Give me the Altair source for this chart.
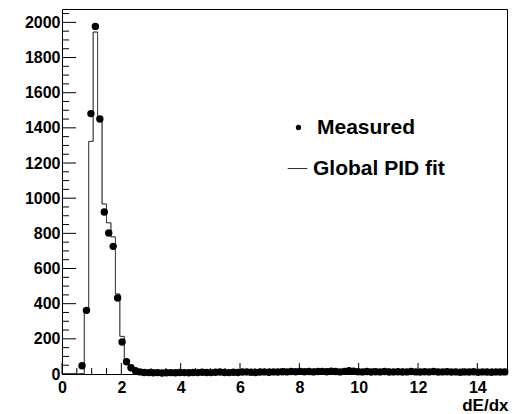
import altair as alt
import pandas as pd

# Histogram binning (100 bins over 0..15)
bin_width = 0.15
n_bins = 100
first_measured_bin = 4

# Measured counts, bins 4..99
measured = [
    47, 362, 1481, 1977, 1450, 921, 802, 726, 432, 182, 70, 36, 19,
    12, 9, 8, 7, 8, 6, 7, 8, 7, 9,
    8, 7, 9, 8, 10, 9, 8, 10, 11, 9,
    8, 10, 9, 11, 12, 10, 9, 11, 12, 10,
    12, 11, 13, 12, 14, 13, 15, 13, 14, 12,
    14, 15, 13, 16, 14, 12, 15, 19, 16, 13,
    12, 14, 11, 13, 12, 14, 11, 12, 13, 11,
    12, 14, 12, 11, 13, 12, 14, 11, 12, 13,
    11, 12, 10, 12, 11, 13, 10, 12, 11, 10,
    12, 11, 12,
]

# Global PID fit, bins 0..99
fit = [
    0, 0, 0, 0, 2, 360, 1323, 1945, 1456, 967, 860, 780, 455, 214, 81, 36, 18,
    12, 10, 9, 8, 8, 8, 8, 8, 8, 9,
    9, 9, 9, 9, 10, 10, 10, 10, 10, 10,
    10, 10, 11, 11, 11, 11, 11, 11, 12, 12,
    12, 12, 12, 13, 13, 13, 13, 13, 13, 13,
    14, 14, 14, 14, 14, 14, 14, 15, 14, 14,
    13, 13, 13, 13, 13, 12, 12, 12, 12, 12,
    12, 12, 12, 12, 12, 12, 12, 12, 12, 12,
    12, 11, 11, 11, 11, 11, 11, 11, 11, 11,
    11, 11, 11,
]

x_major = [0, 2, 4, 6, 8, 10, 12, 14]
x_minor = [0.5, 1, 1.5, 2.5, 3, 3.5, 4.5, 5, 5.5, 6.5, 7, 7.5, 8.5, 9, 9.5,
           10.5, 11, 11.5, 12.5, 13, 13.5, 14.5]
y_major = [0, 200, 400, 600, 800, 1000, 1200, 1400, 1600, 1800, 2000]
y_minor = [v for v in range(50, 2051, 50) if v % 200 != 0]

edges = [round(i * bin_width, 4) for i in range(n_bins + 1)]
centers = [round((i + 0.5) * bin_width, 4) for i in range(n_bins)]

pts = pd.DataFrame({"x": centers[first_measured_bin:], "y": measured, "series": "Measured"})
hist = pd.DataFrame({"x": edges, "y": fit + [fit[-1]], "series": "Global PID fit"})

FONT = "Liberation Sans"
W, H = 445, 365

x_scale = alt.Scale(domain=[0, 15], nice=False, zero=False)
y_scale = alt.Scale(domain=[0, 2076], nice=False, zero=True)

x_axis = alt.Axis(values=x_major, ticks=False, tickSize=0, domain=False, grid=False,
                  labelFont=FONT, labelFontWeight="bold", labelFontSize=16, labelColor="black",
                  labelPadding=5, labelFlush=False, labelOverlap=False, format="d",
                  title="dE/dx", titleFont=FONT, titleFontSize=17, titleFontWeight="bold",
                  titleColor="black", titleAnchor="end", titleAlign="right",
                  titleX=W + 1, titleY=36.5, titleBaseline="alphabetic")
y_axis = alt.Axis(values=y_major, ticks=False, tickSize=0, domain=False, grid=False,
                  labelFont=FONT, labelFontWeight="bold", labelFontSize=16, labelColor="black",
                  labelPadding=2, labelFlush=False, labelOverlap=False, format="d", title=None)


def xticks(vals, length):
    return alt.Chart(pd.DataFrame({"x": vals})).mark_rule(color="black", strokeWidth=1).encode(
        x=alt.X("x:Q", scale=x_scale, axis=x_axis),
        y=alt.value(H), y2=alt.value(H - length))


def yticks(vals, length):
    return alt.Chart(pd.DataFrame({"y": vals})).mark_rule(color="black", strokeWidth=1).encode(
        y=alt.Y("y:Q", scale=y_scale, axis=y_axis),
        x=alt.value(0), x2=alt.value(length))


line = alt.Chart(hist).mark_line(interpolate="step-after", color="black", strokeWidth=1).encode(
    x=alt.X("x:Q", scale=x_scale, axis=x_axis),
    y=alt.Y("y:Q", scale=y_scale, axis=y_axis),
    strokeDash=alt.StrokeDash("series:N",
                              scale=alt.Scale(domain=["Global PID fit"], range=[[1, 0]]),
                              legend=alt.Legend(orient="none", legendX=225, legendY=149, title=None,
                                                symbolType="stroke", symbolSize=380,
                                                symbolStrokeColor="black", symbolStrokeWidth=1,
                                                labelFont=FONT, labelFontSize=21, labelFontWeight="bold",
                                                labelColor="black", labelOffset=5, padding=0)),
)

points = alt.Chart(pts).mark_circle(size=55, opacity=1, color="black").encode(
    x=alt.X("x:Q", scale=x_scale, axis=x_axis),
    y=alt.Y("y:Q", scale=y_scale, axis=y_axis),
    color=alt.Color("series:N",
                    scale=alt.Scale(domain=["Measured"], range=["black"]),
                    legend=alt.Legend(orient="none", legendX=226, legendY=108, title=None,
                                      symbolType="circle", symbolSize=28, symbolOpacity=1,
                                      labelFont=FONT, labelFontSize=21, labelFontWeight="bold",
                                      labelColor="black", labelOffset=8, padding=0)),
)

chart = alt.layer(
    line, points,
    xticks(x_major, 11), xticks(x_minor, 6), yticks(y_major, 14), yticks(y_minor, 7),
).properties(
    width=W, height=H,
    padding={"left": 62, "top": 9, "right": 12, "bottom": 40},
    autosize=alt.AutoSizeParams(type="none"),
    background="white",
).configure_view(stroke="black", strokeWidth=1)

chart.save("out.html", embed_options={"renderer": "svg", "actions": False})
